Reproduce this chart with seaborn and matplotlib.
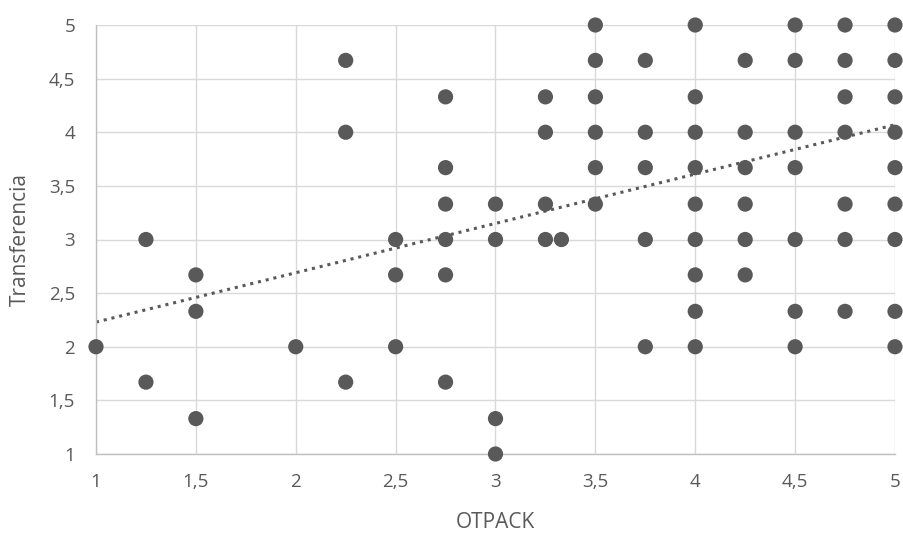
import numpy as np
import pandas as pd
import matplotlib
matplotlib.use("Agg")
import matplotlib.pyplot as plt
import seaborn as sns
from matplotlib.ticker import FuncFormatter

otpack_vals = [1.0,
               1.25, 1.25,
               1.5, 1.5, 1.5,
               2.0,
               2.25, 2.25, 2.25,
               2.5, 2.5, 2.5,
               2.75, 2.75, 2.75, 2.75, 2.75, 2.75,
               3.0, 3.0, 3.0, 3.0,
               3.25, 3.25, 3.25, 3.25,
               3.33,
               3.5, 3.5, 3.5, 3.5, 3.5, 3.5,
               3.75, 3.75, 3.75, 3.75, 3.75,
               4.0, 4.0, 4.0, 4.0, 4.0, 4.0, 4.0, 4.0, 4.0,
               4.25, 4.25, 4.25, 4.25, 4.25, 4.25,
               4.5, 4.5, 4.5, 4.5, 4.5, 4.5, 4.5,
               4.75, 4.75, 4.75, 4.75, 4.75, 4.75, 4.75,
               5.0, 5.0, 5.0, 5.0, 5.0, 5.0, 5.0, 5.0, 5.0]
transferencia_vals = [2.0,
                      3.0, 1.67,
                      2.67, 2.33, 1.33,
                      2.0,
                      4.67, 4.0, 1.67,
                      3.0, 2.67, 2.0,
                      4.33, 3.67, 3.33, 3.0, 2.67, 1.67,
                      3.33, 3.0, 1.33, 1.0,
                      4.33, 4.0, 3.33, 3.0,
                      3.0,
                      5.0, 4.67, 4.33, 4.0, 3.67, 3.33,
                      4.67, 4.0, 3.67, 3.0, 2.0,
                      5.0, 4.33, 4.0, 3.67, 3.33, 3.0, 2.67, 2.33, 2.0,
                      4.67, 4.0, 3.67, 3.33, 3.0, 2.67,
                      5.0, 4.67, 4.0, 3.67, 3.0, 2.33, 2.0,
                      5.0, 4.67, 4.33, 4.0, 3.33, 3.0, 2.33,
                      5.0, 4.67, 4.33, 4.0, 3.67, 3.33, 3.0, 2.33, 2.0]

# Trend line as shown in the chart (Excel linear trendline), read at the ends
trend_x = [1.0, 5.0]
trend_y = [2.23, 4.07]

x_ticks = [1, 1.5, 2, 2.5, 3, 3.5, 4, 4.5, 5]
y_ticks = [1, 1.5, 2, 2.5, 3, 3.5, 4, 4.5, 5]

df = pd.DataFrame({"OTPACK": otpack_vals, "Transferencia": transferencia_vals})
trend = pd.DataFrame({"x": trend_x, "y": trend_y})

sns.set_theme(style="white")
plt.rcParams['font.family'] = ['Open Sans', 'DejaVu Sans']

fig = plt.figure(figsize=(9.04, 5.36), dpi=100)
ax = fig.add_axes([96/904, 1 - 454/536, (895 - 96)/904, (454 - 25)/536])

text_col = "#595959"
grid_col = "#d9d9d9"
pt_col = "#595959"

sns.scatterplot(data=df, x="OTPACK", y="Transferencia", ax=ax, s=120,
                color=pt_col, edgecolor="none", zorder=3, clip_on=False)
sns.lineplot(data=trend, x="x", y="y", ax=ax, color=pt_col, linewidth=2.2,
             linestyle=(0, (1, 1.6)), zorder=2)

ax.set_xlim(1, 5)
ax.set_ylim(1, 5)
ax.set_xticks(x_ticks)
ax.set_yticks(y_ticks)
fmt = FuncFormatter(lambda v, p: (f"{v:g}").replace(".", ","))
ax.xaxis.set_major_formatter(fmt)
ax.yaxis.set_major_formatter(fmt)
ax.grid(True, color=grid_col, linewidth=1)
ax.set_axisbelow(True)
for s in ["top", "right"]:
    ax.spines[s].set_visible(False)
for s in ["left", "bottom"]:
    ax.spines[s].set_color("#bfbfbf")
    ax.spines[s].set_linewidth(1)
ax.tick_params(axis="both", length=0, labelsize=13.5, colors=text_col)
ax.tick_params(axis="x", pad=14)
ax.tick_params(axis="y", pad=15)
ax.set_xlabel("OTPACK", fontsize=15, color=text_col, va="center")
ax.set_ylabel("Transferencia", fontsize=15, color=text_col, va="center")
ax.xaxis.set_label_coords((495 - 96) / 799, (454 - 523) / 429)
ax.yaxis.set_label_coords((20 - 96) / 799, (454 - 240) / 429)

fig.savefig("out.png", dpi=100)
